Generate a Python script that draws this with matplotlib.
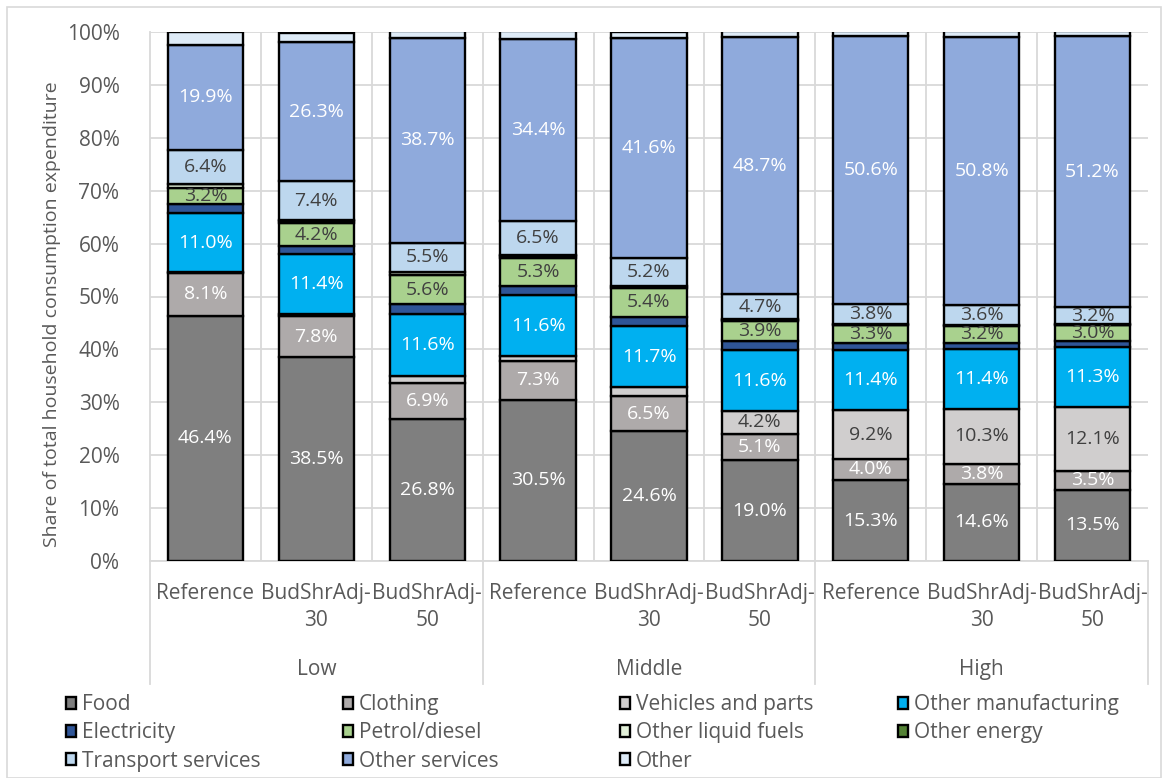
import numpy as np
import matplotlib.pyplot as plt
from matplotlib.lines import Line2D
from matplotlib.patches import Rectangle

plt.rcParams['font.family'] = ['Open Sans', 'DejaVu Sans']

# categories
groups = ["Low", "Middle", "High"]
scenarios = ["Reference", "BudShrAdj-\n30", "BudShrAdj-\n50"]

# shares (%) for each bar: Low Ref/30/50, Middle Ref/30/50, High Ref/30/50
food = [46.4, 38.5, 26.8, 30.5, 24.6, 19.0, 15.3, 14.6, 13.5]
clothing = [8.1, 7.8, 6.9, 7.3, 6.5, 5.1, 4.0, 3.8, 3.5]
vehicles = [0.2, 0.3, 1.3, 0.9, 1.7, 4.2, 9.2, 10.3, 12.1]
other_manuf = [11.0, 11.4, 11.6, 11.6, 11.7, 11.6, 11.4, 11.4, 11.3]
electricity = [1.7, 1.6, 1.9, 1.7, 1.7, 1.6, 1.4, 1.2, 1.2]
petrol = [3.2, 4.2, 5.6, 5.3, 5.4, 3.9, 3.3, 3.2, 3.0]
other_liquid = [0.6, 0.5, 0.5, 0.4, 0.3, 0.2, 0.1, 0.1, 0.1]
other_energy = [0.1, 0.1, 0.1, 0.1, 0.1, 0.1, 0.1, 0.1, 0.1]
transport = [6.4, 7.4, 5.5, 6.5, 5.2, 4.7, 3.8, 3.6, 3.2]
other_services = [19.9, 26.3, 38.7, 34.4, 41.6, 48.7, 50.6, 50.8, 51.2]
other = [2.4, 1.8, 1.3, 1.4, 1.2, 1.1, 0.9, 1.0, 0.9]

series = [
    ("Food", food, "#7F7F7F", "white"),
    ("Clothing", clothing, "#AEAAAA", "white"),
    ("Vehicles and parts", vehicles, "#D0CECE", "#404040"),
    ("Other manufacturing", other_manuf, "#00B0F0", "white"),
    ("Electricity", electricity, "#2F5597", None),
    ("Petrol/diesel", petrol, "#A9D18E", "#404040"),
    ("Other liquid fuels", other_liquid, "#E2F0D9", None),
    ("Other energy", other_energy, "#548235", None),
    ("Transport services", transport, "#BDD7EE", "#404040"),
    ("Other services", other_services, "#8FAADC", "white"),
    ("Other", other, "#DEEBF7", None),
]

W, H = 1168, 778
fig = plt.figure(figsize=(W / 100, H / 100), dpi=100)
ax = fig.add_axes([150 / W, 1 - 561 / H, 998 / W, 529 / H])

# outer chart border
fig.patches.append(Rectangle((7 / W, 0.0), 1154 / W, 771 / H, transform=fig.transFigure,
                             fill=False, edgecolor="#D9D9D9", lw=1.2))

n = len(food)
x = np.arange(n)
bottom = np.zeros(n)
handles = []
for name, vals, col, tcol in series:
    vals = np.array(vals)
    bars = ax.bar(x, vals, 0.68, bottom=bottom, color=col, edgecolor="black", lw=1.7,
                  label=name, zorder=3)
    if tcol is not None:
        for xi, b, v in zip(x, bottom, vals):
            if v >= 3.0:
                ax.text(xi, b + v / 2, f"{v:.1f}%", ha="center", va="center",
                        color=tcol, fontsize=14, zorder=4)
    bottom += vals
    handles.append(bars)

ax.set_xlim(-0.5, n - 0.5)
ax.set_ylim(0, 100)
ax.set_yticks(np.arange(0, 101, 10))
ax.set_yticklabels([f"{v}%" for v in range(0, 101, 10)], fontsize=15, color="#595959")
ax.yaxis.grid(True, color="#D9D9D9", lw=1.3, zorder=0)
for b in np.arange(0.5, n - 1, 1):
    ax.axvline(b, color="#D9D9D9", lw=1.3, zorder=0)
ax.tick_params(axis="y", length=0, pad=22)
ax.tick_params(axis="x", length=0)
for s in ["top", "right"]:
    ax.spines[s].set_visible(False)
for s in ["left", "bottom"]:
    ax.spines[s].set_color("#D9D9D9")
    ax.spines[s].set_linewidth(1.3)
ax.set_ylabel("Share of total household consumption expenditure", fontsize=14,
              color="#595959", va="center")
ax.yaxis.set_label_coords(-0.098, 0.467)

ax.set_xticks(x)
ax.set_xticklabels([])
trans = ax.get_xaxis_transform()
for i in range(n):
    ax.text(x[i], -0.041, scenarios[i % 3], transform=trans, ha="center", va="top",
            fontsize=15, color="#595959", linespacing=1.42)
for g, name in enumerate(groups):
    ax.text(3 * g + 1, -0.186, name, transform=trans, ha="center", va="top",
            fontsize=15, color="#595959")
for b in [-0.5, 2.5, 5.5, 8.5]:
    ax.add_line(Line2D([b, b], [0, -0.232], transform=trans, color="#D9D9D9",
                       lw=1.3, clip_on=False))

# legend laid out row by row, four columns
col_x = [66, 343, 620, 898]
for c in range(4):
    sub = handles[c::4]
    fig.legend(handles=sub, loc="upper left", bbox_to_anchor=(col_x[c] / W, 1 - 694 / H),
               ncol=1, frameon=False, fontsize=15, handlelength=0.5, handleheight=0.5,
               handletextpad=0.25, labelspacing=0.35, labelcolor="#595959",
               borderaxespad=0, borderpad=0)

fig.savefig("out.png", dpi=100)
